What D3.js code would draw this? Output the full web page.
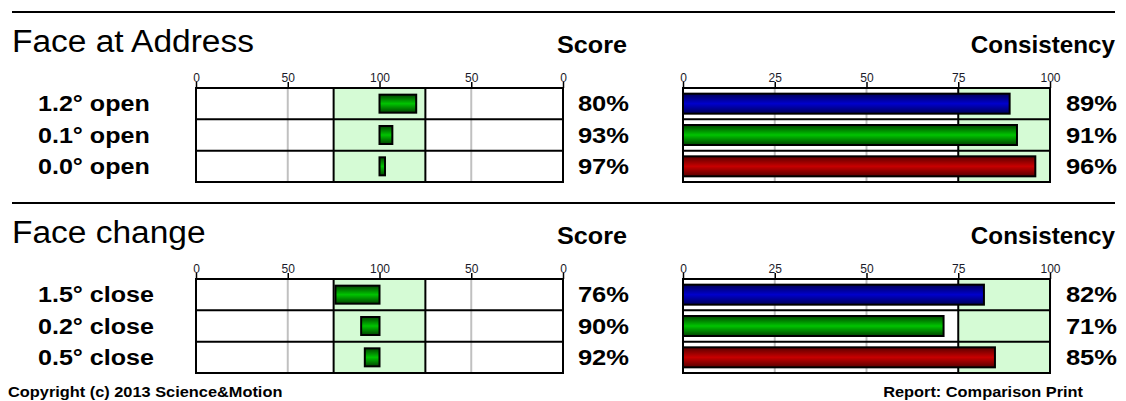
<!DOCTYPE html>
<html><head><meta charset="utf-8">
<script src="https://cdn.jsdelivr.net/npm/d3@7"></script>
<style>
html,body{margin:0;padding:0;background:#fff;}
text{font-family:"Liberation Sans",Arial,sans-serif;}
</style></head>
<body><svg id="c" width="1126" height="401"></svg>
<script>
// ---- data ----
const sectionTitles = ["Face at Address", "Face change"];
const labelsAddress = ["1.2° open", "0.1° open", "0.0° open"];
const scoreAddress = [80, 93, 97];
const consistencyAddress = [89, 91, 96];
const labelsChange = ["1.5° close", "0.2° close", "0.5° close"];
const scoreChange = [76, 90, 92];
const consistencyChange = [82, 71, 85];
const scoreTicks = [0, 50, 100, 150, 200];
const scoreTickLabels = ["0", "50", "100", "50", "0"];
const consTicks = [0, 25, 50, 75, 100];
const consTickLabels = ["0", "25", "50", "75", "100"];
const footerLeft = "Copyright (c) 2013 Science&Motion";
const footerRight = "Report: Comparison Print";

const sections = [
  {title: sectionTitles[0], labels: labelsAddress, score: scoreAddress, cons: consistencyAddress},
  {title: sectionTitles[1], labels: labelsChange, score: scoreChange, cons: consistencyChange}
];

const svg = d3.select("#c");
const defs = svg.append("defs");
const grads = [["gBlue", "#000058", "#0000cc"], ["gGreen", "#004400", "#00c400"], ["gRed", "#580000", "#c80000"]];
grads.forEach(([id, dark, bright]) => {
  const g = defs.append("linearGradient").attr("id", id).attr("x1", 0).attr("y1", 0).attr("x2", 0).attr("y2", 1);
  g.append("stop").attr("offset", "0%").attr("stop-color", dark);
  g.append("stop").attr("offset", "50%").attr("stop-color", bright);
  g.append("stop").attr("offset", "100%").attr("stop-color", dark);
});
const consFills = ["url(#gBlue)", "url(#gGreen)", "url(#gRed)"];

function stretchText(sel, k, anchorRight) {
  sel.each(function () {
    const w = this.getComputedTextLength();
    this.setAttribute("textLength", w * k);
    this.setAttribute("lengthAdjust", "spacingAndGlyphs");
    if (anchorRight != null) this.setAttribute("x", anchorRight - w * k);
  });
}

const xScore = d3.scaleLinear().domain([0, 200]).range([196, 563]);
const xCons = d3.scaleLinear().domain([0, 100]).range([683, 1050]);
const BAND = "#d5fbd5";

function styleAxis(ga) {
  ga.select(".domain").remove();
  ga.selectAll(".tick line").attr("stroke", "#000").attr("stroke-width", 1.5);
  ga.selectAll(".tick text").attr("font-size", 12).attr("font-family", "Liberation Sans, Arial")
    .attr("fill", "#1a1a2a").attr("dy", "0.1em").attr("y", -7);
}

sections.forEach((s, si) => {
  const y0 = 12 + si * 191;
  const g = svg.append("g");
  g.append("line").attr("x1", 12).attr("x2", 1115).attr("y1", y0).attr("y2", y0)
    .attr("stroke", "#000").attr("stroke-width", 2);
  const t = g.append("text").attr("x", 12).attr("y", y0 + 40).attr("font-size", 31).attr("fill", "#000").text(s.title);
  stretchText(t, 1.08);
  const h1 = g.append("text").attr("y", y0 + 41).attr("font-size", 24).attr("font-weight", "bold").text("Score");
  stretchText(h1, 1.05, 627);
  const h2 = g.append("text").attr("y", y0 + 41).attr("font-size", 24).attr("font-weight", "bold").text("Consistency");
  stretchText(h2, 1.01, 1115);

  const top = y0 + 76;
  const y = d3.scaleBand().domain(d3.range(s.labels.length)).range([top, top + 94]);

  const rl = g.selectAll("text.rl").data(s.labels).join("text").attr("class", "rl")
    .attr("x", 38).attr("y", (d, i) => y(i) + y.bandwidth() / 2 + 7.5)
    .attr("font-size", 22).attr("font-weight", "bold").text(d => d);
  stretchText(rl, 1.14);

  // ---------- score chart ----------
  const sc = g.append("g");
  sc.append("rect").attr("x", xScore(0)).attr("y", top).attr("width", xScore(200) - xScore(0)).attr("height", 94).attr("fill", "#fff");
  sc.append("rect").attr("x", xScore(75)).attr("y", top).attr("width", xScore(125) - xScore(75)).attr("height", 94).attr("fill", BAND);
  sc.selectAll("line.grid").data([50, 150]).join("line").attr("class", "grid")
    .attr("x1", d => xScore(d)).attr("x2", d => xScore(d)).attr("y1", top).attr("y2", top + 94)
    .attr("stroke", "#c0c0c0").attr("stroke-width", 2);
  sc.selectAll("line.bandl").data([75, 125]).join("line").attr("class", "bandl")
    .attr("x1", d => xScore(d)).attr("x2", d => xScore(d)).attr("y1", top).attr("y2", top + 94)
    .attr("stroke", "#000").attr("stroke-width", 2);
  const axS = d3.axisTop(xScore).tickValues(scoreTicks).tickFormat((d, i) => scoreTickLabels[i]).tickSize(6).tickSizeOuter(0);
  styleAxis(sc.append("g").attr("transform", `translate(0,${top})`).call(axS));
  sc.selectAll("rect.bar").data(s.score).join("rect").attr("class", "bar")
    .attr("x", (d, i) => s.labels[i].includes("open") ? xScore(100) : xScore(d))
    .attr("width", d => xScore(100 - d) - xScore(0))
    .attr("y", (d, i) => y(i) + y.bandwidth() / 2 - 9).attr("height", 18)
    .attr("fill", "url(#gGreen)").attr("stroke", "#000").attr("stroke-width", 2);
  sc.selectAll("line.sep").data(d3.range(1, s.labels.length)).join("line").attr("class", "sep")
    .attr("x1", xScore(0)).attr("x2", xScore(200)).attr("y1", d => y(d)).attr("y2", d => y(d))
    .attr("stroke", "#000").attr("stroke-width", 2);
  sc.append("rect").attr("x", xScore(0)).attr("y", top).attr("width", xScore(200) - xScore(0)).attr("height", 94)
    .attr("fill", "none").attr("stroke", "#000").attr("stroke-width", 2);
  const sl = sc.selectAll("text.sv").data(s.score).join("text").attr("class", "sv")
    .attr("y", (d, i) => y(i) + y.bandwidth() / 2 + 7.5)
    .attr("font-size", 22).attr("font-weight", "bold").text(d => d + "%");
  stretchText(sl, 1.16, 629);

  // ---------- consistency chart ----------
  const cc = g.append("g");
  cc.append("rect").attr("x", xCons(0)).attr("y", top).attr("width", xCons(100) - xCons(0)).attr("height", 94).attr("fill", "#fff");
  cc.append("rect").attr("x", xCons(75)).attr("y", top).attr("width", xCons(100) - xCons(75)).attr("height", 94).attr("fill", BAND);
  cc.selectAll("line.grid").data([25, 50]).join("line").attr("class", "grid")
    .attr("x1", d => xCons(d)).attr("x2", d => xCons(d)).attr("y1", top).attr("y2", top + 94)
    .attr("stroke", "#c0c0c0").attr("stroke-width", 2);
  cc.append("line").attr("x1", xCons(75)).attr("x2", xCons(75)).attr("y1", top).attr("y2", top + 94)
    .attr("stroke", "#000").attr("stroke-width", 2);
  const axC = d3.axisTop(xCons).tickValues(consTicks).tickFormat((d, i) => consTickLabels[i]).tickSize(6).tickSizeOuter(0);
  styleAxis(cc.append("g").attr("transform", `translate(0,${top})`).call(axC));
  cc.selectAll("rect.bar").data(s.cons).join("rect").attr("class", "bar")
    .attr("x", xCons(0)).attr("width", d => xCons(d) - xCons(0))
    .attr("y", (d, i) => y(i) + y.bandwidth() / 2 - 10).attr("height", 20)
    .attr("fill", (d, i) => consFills[i]).attr("stroke", "#000").attr("stroke-width", 2);
  cc.selectAll("line.sep").data(d3.range(1, s.labels.length)).join("line").attr("class", "sep")
    .attr("x1", xCons(0)).attr("x2", xCons(100)).attr("y1", d => y(d)).attr("y2", d => y(d))
    .attr("stroke", "#000").attr("stroke-width", 2);
  cc.append("rect").attr("x", xCons(0)).attr("y", top).attr("width", xCons(100) - xCons(0)).attr("height", 94)
    .attr("fill", "none").attr("stroke", "#000").attr("stroke-width", 2);
  const cl = cc.selectAll("text.cv").data(s.cons).join("text").attr("class", "cv")
    .attr("y", (d, i) => y(i) + y.bandwidth() / 2 + 7.5)
    .attr("font-size", 22).attr("font-weight", "bold").text(d => d + "%");
  stretchText(cl, 1.16, 1117);
});

const f1 = svg.append("text").attr("x", 8).attr("y", 397).attr("font-size", 15).attr("font-weight", "bold").text(footerLeft);
stretchText(f1, 1.09);
const f2 = svg.append("text").attr("y", 397).attr("font-size", 15).attr("font-weight", "bold").text(footerRight);
stretchText(f2, 1.09, 1083);
</script>
</body></html>
